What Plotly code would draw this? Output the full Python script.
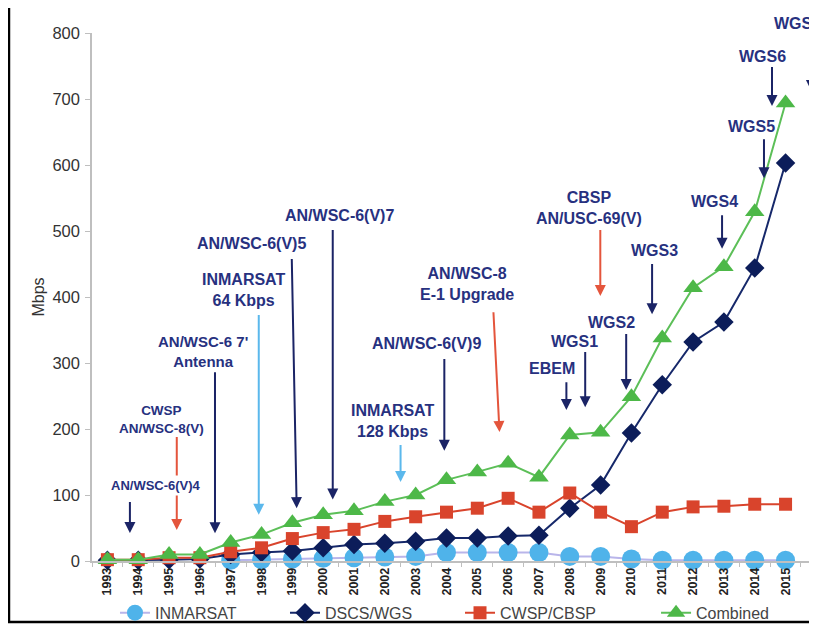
import plotly.graph_objects as go

years = ["1993", "1994", "1995", "1996", "1997", "1998", "1999", "2000", "2001", "2002",
         "2003", "2004", "2005", "2006", "2007", "2008", "2009", "2010", "2011", "2012",
         "2013", "2014", "2015", "2016"]

inmarsat = [None, None, None, None, 1, 2, 3, 4, 5, 6, 7, 13, 13, 13, 13, 7, 7, 3, 1, 1, 1, 1, 1, None]
dscs_wgs = [1, 1, 2, 3, 10, 13, 15, 20, 25, 27, 30, 35, 35, 38, 39, 80, 115, 194, 267, 332, 362, 444, 603, None]
cwsp_cbsp = [2, 2, 5, 5, 14, 20, 34, 43, 48, 60, 67, 74, 80, 95, 74, 103, 74, 52, 74, 82, 83, 86, 86, None]
combined = [2, 2, 10, 10, 28, 40, 58, 70, 76, 90, 100, 123, 135, 148, 127, 191, 195, 249, 338, 414, 446, 529, 694, None]

y_ticks = [0, 100, 200, 300, 400, 500, 600, 700, 800]
Y_MAX = 800

# event labels: (text, x index, y, font size)
event_labels = [
    ("CWSP<br>AN/WSC-8(V)", 1.74, 215.0, 13.5),
    ("AN/WSC-6 7'<br>Antenna", 3.10, 316.7, 15),
    ("INMARSAT<br>64 Kbps", 4.40, 410.6, 16),
    ("AN/WSC-6(V)5", 4.68, 481.8, 16),
    ("AN/WSC-6(V)7", 7.53, 524.2, 16),
    ("INMARSAT<br>128 Kbps", 9.25, 212.0, 16),
    ("AN/WSC-6(V)9", 10.36, 328.8, 16),
    ("AN/WSC-8<br>E-1 Upgrade", 11.65, 419.7, 16),
    ("EBEM", 14.43, 292.4, 16),
    ("WGS1", 15.14, 333.3, 16),
    ("WGS2", 16.34, 362.0, 16),
    ("CBSP<br>AN/USC-69(V)", 15.63, 534.8, 16),
    ("WGS3", 17.74, 471.0, 16),
    ("WGS4", 19.68, 544.0, 16),
    ("WGS5", 20.91, 657.6, 16),
    ("WGS6", 21.24, 765.0, 16),
    ("WGS7", 21.56, 815.0, 16),
]

# event arrows: (x tail, y tail, x head, y head, colour key)
event_arrows = [
    (0.73, 92.4, 0.73, 42.4, "navy"),
    (2.25, 190.9, 2.25, 47.0, "red"),
    (3.49, 289.0, 3.49, 42.0, "navy"),
    (4.91, 375.8, 4.91, 70.0, "light"),
    (5.98, 460.6, 6.14, 80.0, "navy"),
    (7.31, 504.5, 7.31, 93.0, "navy"),
    (9.51, 178.8, 9.51, 119.7, "light"),
    (10.93, 309.0, 10.93, 167.0, "navy"),
    (12.52, 380.0, 12.72, 195.5, "red"),
    (14.89, 274.0, 14.89, 228.8, "navy"),
    (15.50, 319.7, 15.50, 233.0, "navy"),
    (16.83, 347.0, 16.83, 259.0, "navy"),
    (15.99, 504.5, 15.99, 401.5, "red"),
    (17.67, 453.0, 17.67, 374.0, "navy"),
    (19.94, 527.0, 19.94, 473.0, "navy"),
    (21.30, 642.0, 21.30, 580.0, "navy"),
    (21.56, 751.5, 21.56, 689.4, "navy"),
]
# WGS7 arrow at the cut-off right edge: head position and tail offset in pixels
wgs7_arrow = (22.84, 712.0, -57)

FONT = "Liberation Sans, Arial, sans-serif"
TEXT_NAVY = "#27317f"
ARROW_COLORS = {"navy": "#1b2466", "red": "#e4553c", "light": "#5bb8ec"}

fig = go.Figure()
fig.add_trace(go.Scatter(x=years, y=inmarsat, name="INMARSAT", mode="lines+markers",
                         line=dict(color="#b9b5ea", width=2),
                         marker=dict(symbol="circle", size=19, color="#4fb3ea"),
                         cliponaxis=False, connectgaps=False, legend="legend"))
fig.add_trace(go.Scatter(x=years, y=dscs_wgs, name="DSCS/WGS", mode="lines+markers",
                         line=dict(color="#16286a", width=2),
                         marker=dict(symbol="diamond", size=15, color="#0c1d5a"),
                         cliponaxis=False, legend="legend2"))
fig.add_trace(go.Scatter(x=years, y=cwsp_cbsp, name="CWSP/CBSP", mode="lines+markers",
                         line=dict(color="#d9442c", width=2),
                         marker=dict(symbol="square", size=13, color="#d9442c"),
                         cliponaxis=False, legend="legend3"))
fig.add_trace(go.Scatter(x=years, y=combined, name="Combined", mode="lines+markers",
                         line=dict(color="#5cbf58", width=2),
                         marker=dict(symbol="triangle-up", size=17, color="#4db848"),
                         cliponaxis=False, legend="legend4"))

# y positions given as fractions of the y domain (value / Y_MAX) so labels above the axis top stay visible
YREF = "y domain"
annotations = []
for xt, yt, xh, yh, ck in event_arrows:
    annotations.append(dict(x=xh, y=yh / Y_MAX, ax=xt, ay=yt / Y_MAX, xref="x", yref=YREF,
                            axref="x", ayref=YREF,
                            text=" ", font=dict(size=1), showarrow=True, arrowhead=2,
                            arrowsize=1.1, arrowwidth=2, arrowcolor=ARROW_COLORS[ck],
                            standoff=0, startstandoff=0))
annotations.append(dict(x=wgs7_arrow[0], y=wgs7_arrow[1] / Y_MAX, ax=0, ay=wgs7_arrow[2],
                        xref="x", yref=YREF, axref="pixel", ayref="pixel",
                        text=" ", font=dict(size=1), showarrow=True, arrowhead=2,
                        arrowsize=1.1, arrowwidth=2, arrowcolor=ARROW_COLORS["navy"],
                        standoff=0, startstandoff=0))
for txt, xv, yv, fs in event_labels:
    annotations.append(dict(x=xv, y=yv / Y_MAX, xref="x", yref=YREF, text="<b>" + txt + "</b>",
                            showarrow=False, font=dict(family=FONT, size=fs, color=TEXT_NAVY),
                            align="center", yanchor="middle",
                            xanchor="left" if txt == "WGS7" else "center"))
annotations.append(dict(x=1.57, y=115.0 / Y_MAX, xref="x", yref=YREF, text="<b>AN/WSC-6(V)4</b>",
                        showarrow=False, bgcolor="white", borderpad=2, yanchor="middle",
                        font=dict(family=FONT, size=13, color=TEXT_NAVY)))

legend_style = dict(y=-0.098, yanchor="middle", xanchor="left",
                    font=dict(family=FONT, size=16, color="#444444"),
                    itemwidth=30, bgcolor="rgba(0,0,0,0)")
fig.update_layout(
    width=817, height=625,
    margin=dict(l=84, r=8, t=25, b=72, autoexpand=False),
    paper_bgcolor="white", plot_bgcolor="white",
    font=dict(family=FONT, size=16, color="#333333"),
    showlegend=True,
    legend=dict(x=0.0317, orientation="h", **legend_style),
    legend2=dict(x=0.2662, orientation="h", **legend_style),
    legend3=dict(x=0.5076, orientation="h", **legend_style),
    legend4=dict(x=0.778, orientation="v", **legend_style),
    annotations=annotations,
    shapes=[dict(type="rect", xref="paper", yref="paper", x0=-0.1145, x1=1.05, y0=-0.1155, y1=1.055,
                 line=dict(color="black", width=2.5), fillcolor="rgba(0,0,0,0)", layer="above")],
)
fig.update_xaxes(type="category", categoryorder="array", categoryarray=years,
                 range=[-0.5, 23.02], showline=True, linecolor="#bfbfbf", linewidth=1.5,
                 ticks="outside", tickson="boundaries", ticklen=4, tickcolor="#bfbfbf",
                 tickangle=-90, automargin=False,
                 tickfont=dict(family=FONT, size=12.5, color="#222222", weight="bold"),
                 showgrid=False, zeroline=False)
fig.update_yaxes(range=[0, Y_MAX], tickvals=y_ticks, showline=True, linecolor="#bfbfbf", linewidth=1.5,
                 ticks="outside", ticklen=5, tickcolor="#bfbfbf", ticklabelstandoff=2, automargin=False,
                 tickfont=dict(family=FONT, size=16.5, color="#333333"),
                 title=dict(text="Mbps", font=dict(family=FONT, size=16, color="#333333"), standoff=4),
                 showgrid=False, zeroline=False)

fig.write_html("out.html")
